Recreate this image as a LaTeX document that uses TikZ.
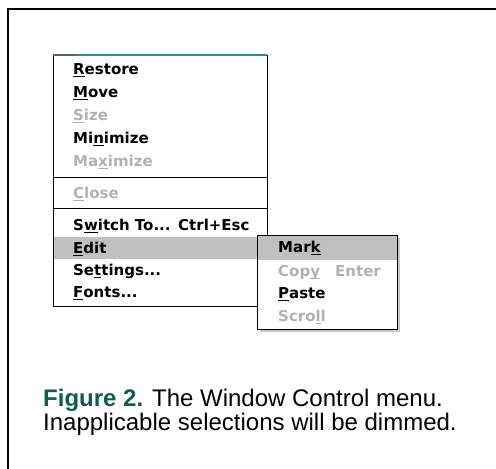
\documentclass[tikz,border=0pt]{standalone}
\usepackage{fontspec}
\setmainfont{Liberation Sans}
\newfontfamily\menufont{DejaVu Sans}
\definecolor{dimtext}{RGB}{178,178,178}
\definecolor{hilite}{RGB}{192,192,192}
\definecolor{capteal}{RGB}{16,92,78}
\definecolor{bartea}{RGB}{44,140,140}
\definecolor{bargray}{RGB}{96,96,96}
\definecolor{shadowgray}{RGB}{200,200,200}
\newcommand\mnem[1]{\setbox0\hbox{#1}\rlap{\rule[-2.6pt]{\wd0}{1.1pt}}\box0}
\tikzset{
  mi/.style={anchor=base west, inner sep=0pt, font={\menufont\bfseries\fontsize{15}{18}\selectfont}},
  dim/.style={mi, text=dimtext},
  captext/.style={anchor=base west, inner sep=0pt, font={\fontsize{24}{24}\selectfont}},
  menubox/.style={draw=black, line width=1pt, fill=white},
  sepline/.style={draw=black, line width=1pt},
}
\begin{document}
\begin{tikzpicture}[x=1pt,y=-1pt]
\useasboundingbox (0,0) rectangle (496,469);
% outer frame (top and left)
\draw[line width=1.4pt] (496,9) -- (8,9) -- (8,469);
% main menu
\draw[menubox] (53,55) rectangle (267,306);
\draw[line width=1.5pt, bargray] (53,55) -- (76,55);
\draw[line width=1.5pt, bartea] (76,55) -- (267,55);
\draw[sepline] (53,177) -- (267,177);
\draw[sepline] (53,208) -- (267,208);
\fill[hilite] (53.5,237) rectangle (258,258.5);
\node[mi]  (restore)  at (73,74)    {\mnem{R}estore};
\node[mi]  (move)     at (73,97)    {\mnem{M}ove};
\node[dim] (size)     at (73,120)   {\mnem{S}ize};
\node[mi]  (minimize) at (73,143)   {Mi\mnem{n}imize};
\node[dim] (maximize) at (73,166)   {Ma\mnem{x}imize};
\node[dim] (close)    at (73,198)   {\mnem{C}lose};
\node[mi]  (switch)   at (73,230.5) {S\mnem{w}itch To...};
\node[mi]  (ctrlesc)  at (178,230.5) {Ctrl+Esc};
\node[mi]  (edit)     at (73,253.5) {\mnem{E}dit};
\node[mi]  (settings) at (73,275.5) {Se\mnem{t}tings...};
\node[mi]  (fonts)    at (73,297.5) {\mnem{F}onts...};
% submenu
\fill[shadowgray] (259.5,237.5) rectangle (399.5,331.5);
\draw[menubox] (257,235) rectangle (397,329);
\fill[hilite] (257.5,235.5) rectangle (396.5,259.5);
\node[mi]  (mark)   at (278,252.5) {Mar\mnem{k}};
\node[dim] (copy)   at (278,276)   {Cop\mnem{y}};
\node[dim] (enter)  at (335,276)   {Enter};
\node[mi]  (paste)  at (278,298)   {\mnem{P}aste};
\node[dim] (scroll) at (278,321.5) {Scro\mnem{l}l};
% caption
\node[captext] (cap1) at (43,406.7) {\textcolor{capteal}{\textbf{Figure 2.}} The Window Control menu.};
\node[captext] (cap2) at (43,430) {Inapplicable selections will be dimmed.};
\end{tikzpicture}
\end{document}
